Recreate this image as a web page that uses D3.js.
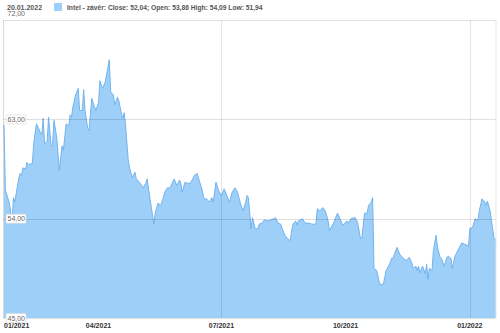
<!DOCTYPE html>
<html>
<head>
<meta charset="utf-8">
<script src="https://cdn.jsdelivr.net/npm/d3@7"></script>
<style>
  body { margin: 0; background: #fff; }
  svg { display: block; font-family: "Liberation Sans", Arial, sans-serif; }
</style>
</head>
<body>
<div id="chart"></div>
<script>
var width = 500;
var height = 333;

// trading days counted from 21.01.2021
var startDate = new Date(2021, 0, 21);
var days = [0,1,4,6,7,8,11,12,13,14,16,17,18,21,22,24,27,28,29,30,32,33,35,36,37,39,41,43,44,46,48,49,50,51,53,55,56,58,59,60,62,63,65,66,68,70,71,73,75,78,79,81,82,84,85,87,88,89,90,92,93,95,97,98,101,103,105,106,108,111,112,114,116,118,119,121,123,126,128,130,131,132,134,136,138,141,143,144,147,148,150,152,154,155,157,159,161,163,165,167,169,171,173,175,177,179,180,181,182,183,184,186,188,189,191,193,195,198,200,201,203,205,206,208,210,212,213,214,216,217,218,220,221,223,226,228,231,232,234,236,238,240,241,244,247,251,254,255,257,260,262,264,265,267,269,270,272,273,274,276,278,279,281,283,286,287,288,291,293,295,298,300,302,303,305,306,307,308,310,312,313,314,315,317,318,320,321,323,324,326,328,329,331,332,334,336,339,341,344,345,347,349,351,352,354,356,357,358,360,361,363,364];
var closes = [62.5,56.6,55.4,53.6,55.9,55.5,57.7,58.1,57.9,58.6,58.5,59.1,58.9,59.0,60.8,62.6,61.8,61.6,63.1,60.8,61.0,63.2,60.5,60.7,62.9,61.4,58.4,60.6,60.2,62.6,62.4,63.4,63.2,64.1,65.2,65.8,63.8,63.8,65.7,63.8,62.2,62.0,64.9,64.5,63.8,64.5,66.5,65.8,66.4,68.4,65.5,65.2,64.3,65.0,64.7,63.5,63.1,63.6,62.5,59.3,58.6,57.7,58.2,57.6,57.2,56.8,57.2,57.6,55.9,53.5,54.5,55.4,55.2,55.9,56.4,56.8,56.8,57.6,57.0,57.5,57.2,56.4,57.3,57.2,57.2,57.9,58.1,57.7,56.5,55.8,55.8,55.5,55.9,55.5,57.3,56.5,56.1,56.7,56.1,55.5,56.4,56.8,56.4,55.4,54.7,55.5,56.1,55.9,54.5,53.1,54.1,53.1,53.1,53.5,53.6,53.9,53.8,53.9,54.0,54.1,53.6,53.5,53.1,52.5,52.2,52.0,52.9,53.5,53.8,53.4,53.8,53.9,54.0,53.6,53.6,53.5,53.5,54.9,54.7,55.0,54.7,53.8,52.9,53.6,54.5,53.4,53.8,53.6,54.0,54.1,53.6,52.2,52.2,54.5,54.5,55.2,55.5,55.9,49.5,49.3,48.2,48.0,48.1,49.3,50.0,50.4,50.4,51.4,50.8,50.5,50.2,50.5,50.0,49.5,49.7,49.3,49.7,49.1,49.7,49.0,49.9,48.5,49.5,49.3,51.1,52.5,51.4,50.5,50.4,49.7,50.5,50.6,50.4,49.5,50.6,51.1,51.8,51.7,51.5,53.1,53.2,54.0,53.8,54.7,55.8,55.5,55.2,55.6,54.7,53.8,52.2,52.04];

var yTicks = [72, 63, 54, 45];
var xTickDates = [new Date(2021, 0, 1), new Date(2021, 3, 1), new Date(2021, 6, 1), new Date(2021, 9, 1), new Date(2022, 0, 1)];
var xTickLabels = ["01/2021", "04/2021", "07/2021", "10/2021", "01/2022"];
var headerDate = "20.01.2022";
var legendText = "Intel - závěr: Close: 52,04; Open: 53,86 High: 54,09 Low: 51,94";

var data = days.map(function(d, i) {
  return { date: d3.timeDay.offset(startDate, d), value: closes[i] };
});

var plotL = 4, plotR = 495.5, plotT = 20, plotB = 318;

var x = d3.scaleTime()
  .domain(d3.extent(data, d => d.date))
  .range([plotL, plotR]);
var y = d3.scaleLinear()
  .domain([45, 72])
  .range([plotB, plotT]);

var svg = d3.select("#chart").append("svg")
  .attr("width", width)
  .attr("height", height);

var area = d3.area()
  .x(d => x(d.date))
  .y0(y(45))
  .y1(d => y(d.value));

var line = d3.line()
  .x(d => x(d.date))
  .y(d => y(d.value));

svg.append("path")
  .datum(data)
  .attr("fill", "#9dcff8")
  .attr("d", area);

svg.append("path")
  .datum(data)
  .attr("fill", "none")
  .attr("stroke", "#72b4ef")
  .attr("stroke-width", 1)
  .attr("stroke-linejoin", "round")
  .attr("d", line);

// grid
svg.append("g")
  .selectAll("line")
  .data(yTicks)
  .join("line")
    .attr("x1", plotL - 1)
    .attr("x2", plotR)
    .attr("y1", d => Math.round(y(d)) + 0.5)
    .attr("y2", d => Math.round(y(d)) + 0.5)
    .attr("stroke", "#000")
    .attr("stroke-opacity", 0.12);

var vGrid = xTickDates.filter(d => d >= x.domain()[0] && d.getMonth() % 6 == 0);
svg.append("g")
  .selectAll("line")
  .data(vGrid)
  .join("line")
    .attr("x1", d => Math.round(x(d)) + 0.5)
    .attr("x2", d => Math.round(x(d)) + 0.5)
    .attr("y1", plotT)
    .attr("y2", plotB)
    .attr("stroke", "#000")
    .attr("stroke-opacity", 0.1);

// left and right borders
svg.append("line")
  .attr("x1", 3.5).attr("x2", 3.5)
  .attr("y1", plotT).attr("y2", plotB)
  .attr("stroke", "#000").attr("stroke-opacity", 0.15);
svg.append("line")
  .attr("x1", plotR + 0.5).attr("x2", plotR + 0.5)
  .attr("y1", plotT).attr("y2", plotB)
  .attr("stroke", "#000").attr("stroke-opacity", 0.1);

// y labels with boxes
var yl = svg.append("g")
  .selectAll("g")
  .data(yTicks)
  .join("g")
    .attr("transform", d => "translate(6," + (d == 72 ? y(d) - 7 : y(d)) + ")");

yl.append("rect")
  .attr("x", 0)
  .attr("y", -4.5)
  .attr("width", 20)
  .attr("height", 9)
  .attr("rx", 1)
  .attr("fill", "#fff")
  .attr("stroke", d => d == 72 ? "none" : "#d8d8d8")
  .attr("stroke-width", 0.6);

yl.append("text")
  .attr("x", 1.5)
  .attr("y", 2.5)
  .attr("font-size", 7)
  .attr("fill", "#666")
  .text(d => d3.format(".2f")(d).replace(".", ","));

// x labels
svg.append("g")
  .selectAll("text")
  .data(xTickDates)
  .join("text")
    .attr("x", d => Math.max(x(d), plotL))
    .attr("y", 328)
    .attr("text-anchor", d => x(d) < plotL + 15 ? "start" : "middle")
    .attr("font-size", 7)
    .attr("font-weight", "bold")
    .attr("fill", "#333")
    .text((d, i) => xTickLabels[i]);

// header
svg.append("text")
  .attr("x", 7)
  .attr("y", 10)
  .attr("font-size", 7)
  .attr("font-weight", "bold")
  .attr("fill", "#555")
  .text(headerDate);

svg.append("rect")
  .attr("x", 54)
  .attr("y", 3)
  .attr("width", 8)
  .attr("height", 8)
  .attr("fill", "#9dcff8");

svg.append("text")
  .attr("x", 67)
  .attr("y", 10)
  .attr("font-size", 6.7)
  .attr("font-weight", "bold")
  .attr("fill", "#555")
  .text(legendText);
</script>
</body>
</html>
